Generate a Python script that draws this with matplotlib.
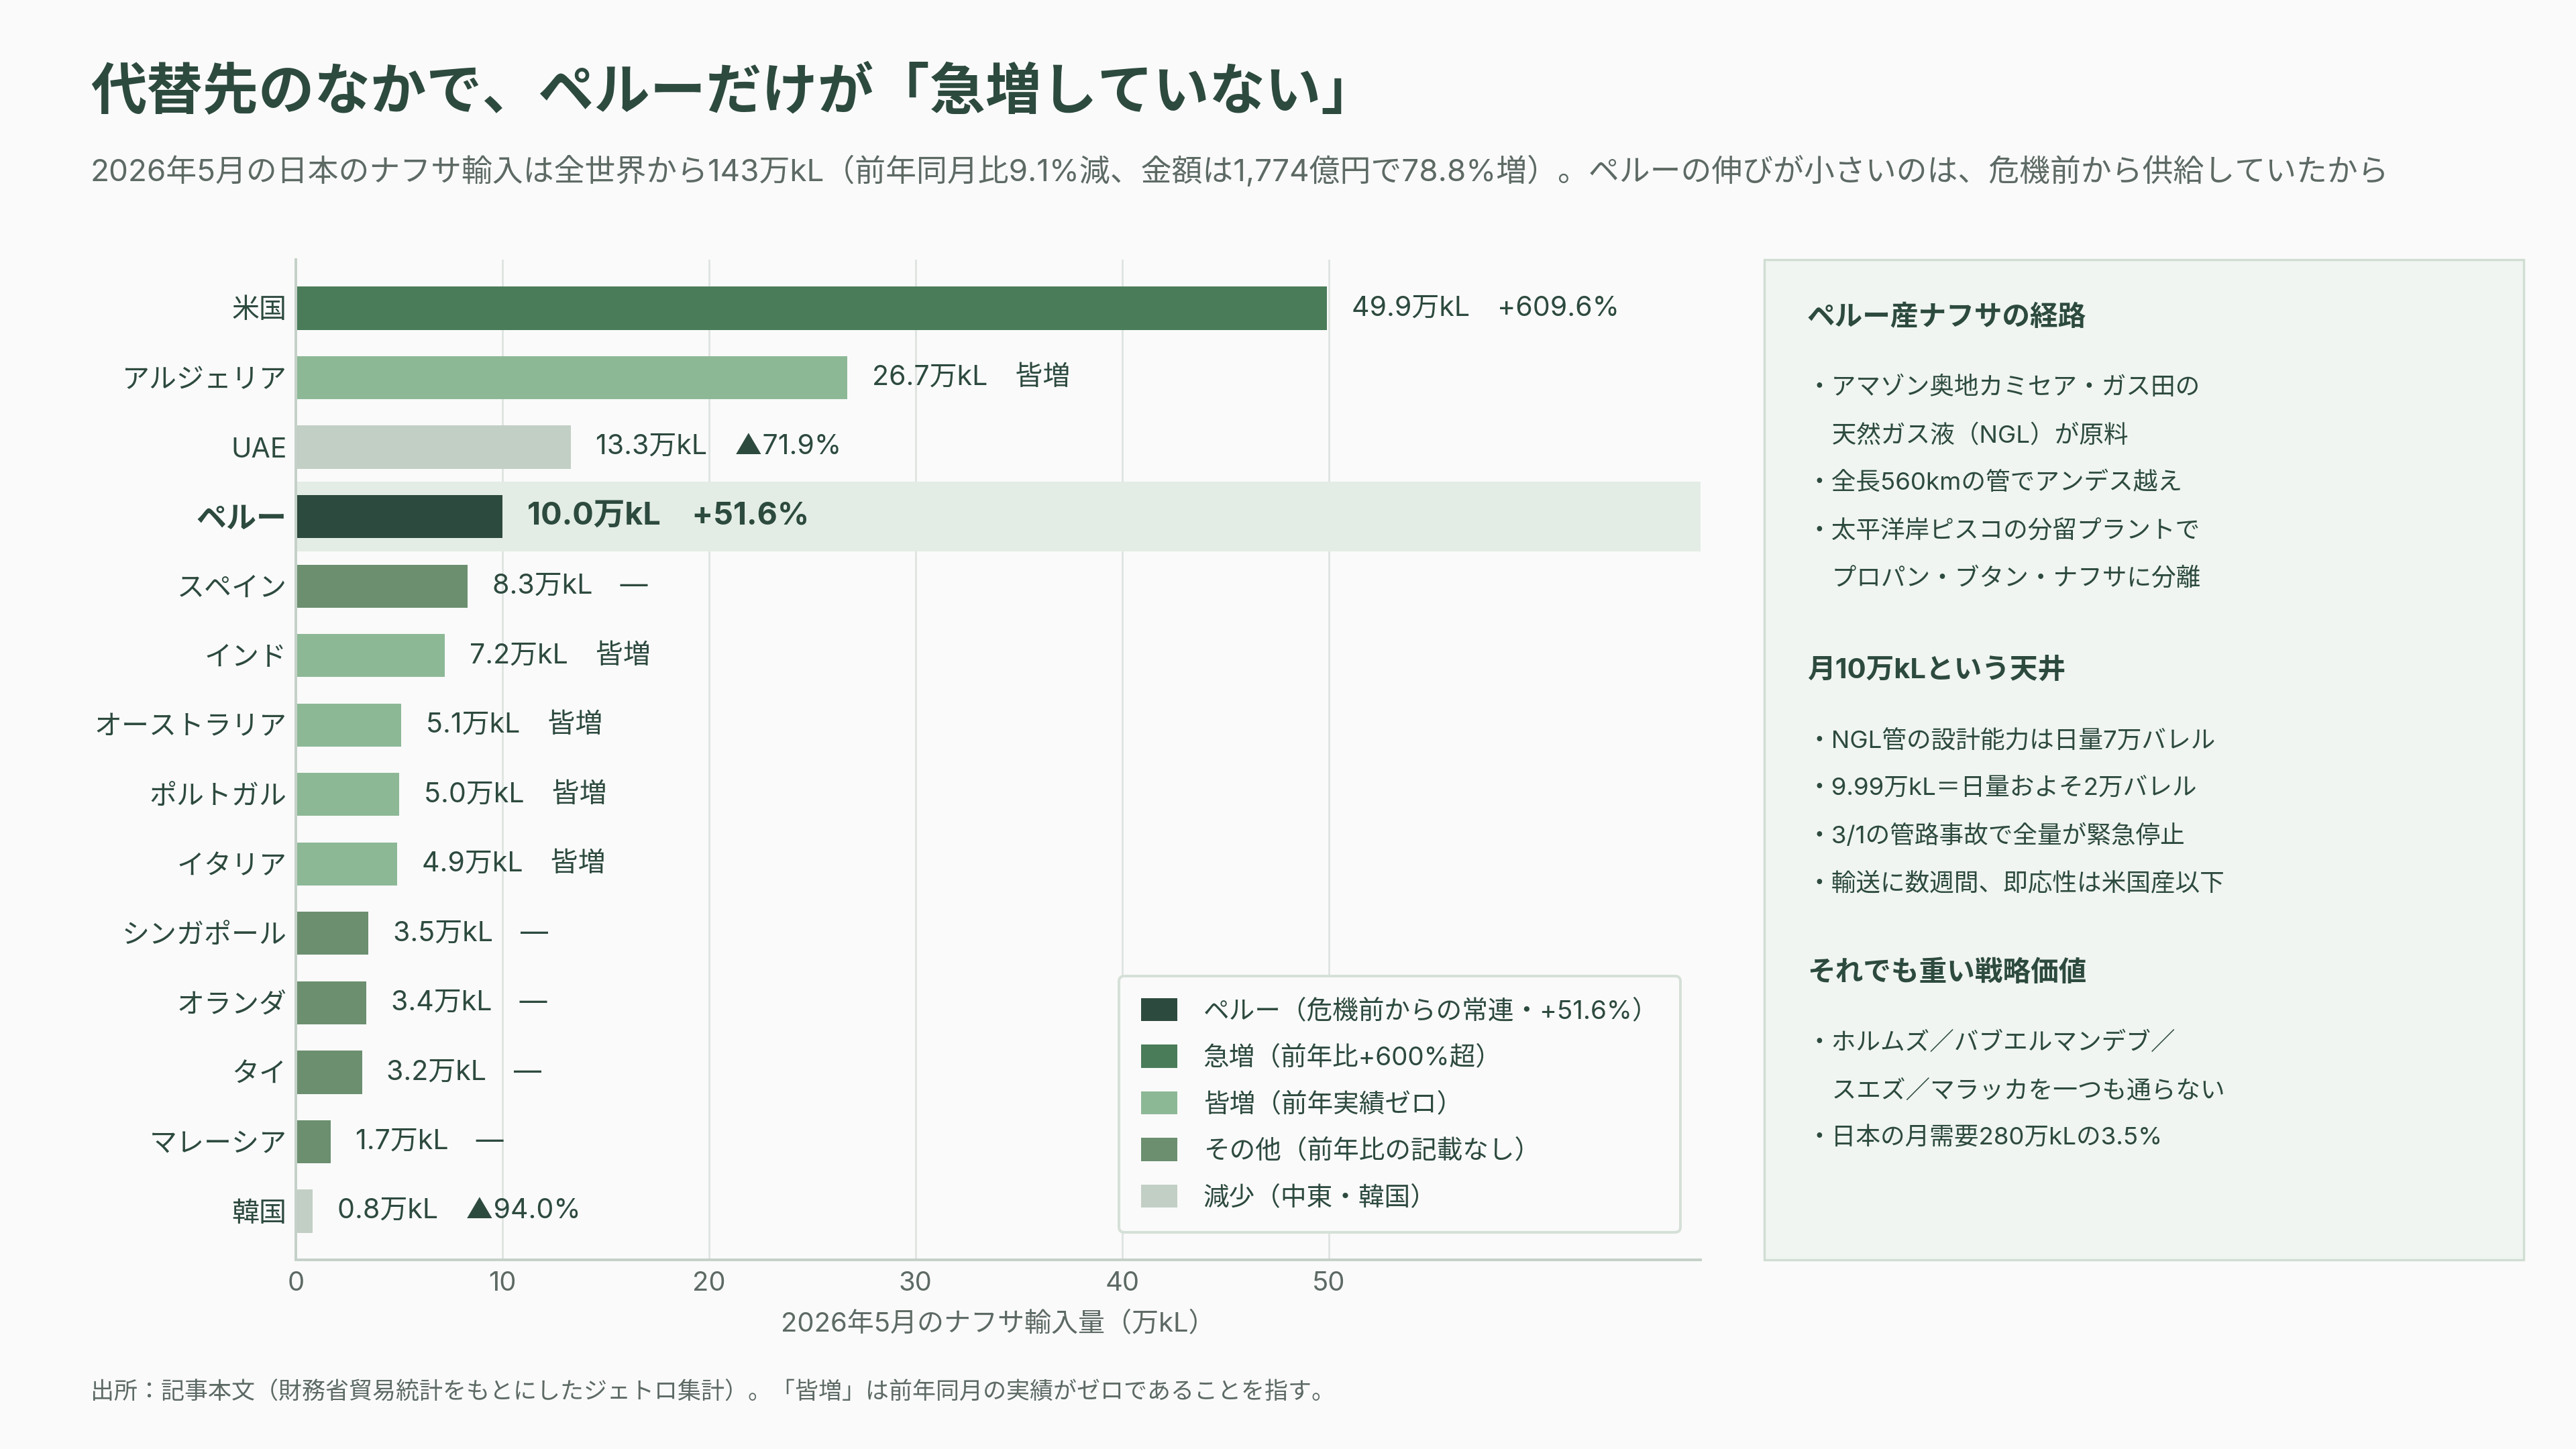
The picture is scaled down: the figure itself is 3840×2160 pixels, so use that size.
import matplotlib
matplotlib.use("Agg")
import matplotlib.pyplot as plt
from matplotlib.patches import Patch, Rectangle

plt.rcParams['font.family'] = ['Inter', 'Noto Sans CJK JP', 'DejaVu Sans']

# データ
countries = ["米国", "アルジェリア", "UAE", "ペルー", "スペイン", "インド", "オーストラリア",
             "ポルトガル", "イタリア", "シンガポール", "オランダ", "タイ", "マレーシア", "韓国"]
volumes = [49.9, 26.7, 13.3, 10.0, 8.3, 7.2, 5.1, 5.0, 4.9, 3.5, 3.4, 3.2, 1.7, 0.8]
changes = ["+609.6%", "皆増", "▲71.9%", "+51.6%", "—", "皆増", "皆増",
           "皆増", "皆増", "—", "—", "—", "—", "▲94.0%"]
groups = ["surge", "new", "down", "peru", "other", "new", "new",
          "new", "new", "other", "other", "other", "other", "down"]

group_order = ["peru", "surge", "new", "other", "down"]
group_labels = {
    "peru": "ペルー（危機前からの常連・+51.6%）",
    "surge": "急増（前年比+600%超）",
    "new": "皆増（前年実績ゼロ）",
    "other": "その他（前年比の記載なし）",
    "down": "減少（中東・韓国）",
}
group_colors = {
    "peru": "#2d4a3e",
    "surge": "#4a7c59",
    "new": "#8db896",
    "other": "#6b8f6f",
    "down": "#c2cfc5",
}

title = "代替先のなかで、ペルーだけが「急増していない」"
subtitle = ("2026年5月の日本のナフサ輸入は全世界から143万kL（前年同月比9.1%減、金額は1,774億円で78.8%増）。"
            "ペルーの伸びが小さいのは、危機前から供給していたから")
xlabel = "2026年5月のナフサ輸入量（万kL）"
footer = "出所：記事本文（財務省貿易統計をもとにしたジェトロ集計）。「皆増」は前年同月の実績がゼロであることを指す。"

panel_sections = [
    ("ペルー産ナフサの経路", ["・アマゾン奥地カミセア・ガス田の", "　天然ガス液（NGL）が原料",
                           "・全長560kmの管でアンデス越え", "・太平洋岸ピスコの分留プラントで",
                           "　プロパン・ブタン・ナフサに分離"]),
    ("月10万kLという天井", ["・NGL管の設計能力は日量7万バレル", "・9.99万kL＝日量およそ2万バレル",
                          "・3/1の管路事故で全量が緊急停止", "・輸送に数週間、即応性は米国産以下"]),
    ("それでも重い戦略価値", ["・ホルムズ／バブエルマンデブ／", "　スエズ／マラッカを一つも通らない",
                           "・日本の月需要280万kLの3.5%"]),
]

dark = "#2d4a3e"
gray = "#5d6a64"
bg = "#fafafa"
W, H = 3840, 2160


def fx(px):
    return px / W


def fy(py):
    return 1 - py / H


fig = plt.figure(figsize=(16, 9), dpi=240, facecolor=bg)

fig.text(fx(135), fy(140), title, fontsize=25, fontweight='bold', color=dark, va='center', ha='left')
fig.text(fx(135), fy(255), subtitle, fontsize=13.75, color=gray, va='center', ha='left')

ax = fig.add_axes([fx(441), fy(1878), fx(2535 - 441), (1878 - 387) / H])
ax.set_facecolor(bg)

y = list(range(len(countries)))
colors = [group_colors[g] for g in groups]
ax.axhspan(2.5, 3.5, color="#e3ede5", zorder=1, lw=0)
ax.barh(y, volumes, height=0.62, color=colors, zorder=2)

for i, (v, c, g) in enumerate(zip(volumes, changes, groups)):
    label = f"{v:.1f}万kL\u3000{c}"
    if g == "peru":
        ax.text(v + 1.2, i, label, va='center', ha='left', fontsize=14, fontweight='bold', color=dark, zorder=3)
    else:
        ax.text(v + 1.2, i, label, va='center', ha='left', fontsize=12.3, color=dark, zorder=3)

ax.set_xlim(0, 68)
ax.set_ylim(13.7, -0.7)
ax.set_yticks(y)
ax.set_yticklabels(countries)
for lab, g in zip(ax.get_yticklabels(), groups):
    lab.set_color(dark)
    if g == "peru":
        lab.set_fontweight('bold')
        lab.set_fontsize(13.5)
    else:
        lab.set_fontsize(12.3)
ax.set_xticks([0, 10, 20, 30, 40, 50])
ax.tick_params(axis='both', length=0)
ax.tick_params(axis='y', pad=4)
ax.tick_params(axis='x', pad=5, labelsize=12, labelcolor=gray)
ax.grid(axis='x', color="#dde3df", lw=0.8)
ax.set_axisbelow(True)
for s in ["top", "right"]:
    ax.spines[s].set_visible(False)
for s in ["left", "bottom"]:
    ax.spines[s].set_color("#c5d1c8")
    ax.spines[s].set_linewidth(1.2)
ax.set_xlabel(xlabel, fontsize=12, color=gray, labelpad=7)

handles = [Patch(facecolor=group_colors[g], label=group_labels[g]) for g in group_order]
leg = ax.legend(handles=handles, loc='lower right', bbox_to_anchor=(0.9857, 0.0275),
                borderaxespad=0, fontsize=11.6, frameon=True, labelspacing=0.8,
                handlelength=1.4, handleheight=1.0, handletextpad=1.0,
                borderpad=0.85, labelcolor=dark)
leg.get_frame().set_facecolor(bg)
leg.get_frame().set_edgecolor("#d5e0d8")
leg.get_frame().set_linewidth(1.2)
leg.get_frame().set_alpha(1)
leg.set_zorder(5)

# 右側パネル
panel = Rectangle((fx(2630), fy(1878)), fx(3762 - 2630), (1878 - 387) / H,
                  transform=fig.transFigure, facecolor="#f0f5f1", edgecolor="#d0ddd3", lw=1.0, zorder=0)
fig.patches.append(panel)

head_y = [473, 999, 1450]
for (head, lines), hy in zip(panel_sections, head_y):
    fig.text(fx(2694), fy(hy), head, fontsize=12.5, fontweight='bold', color=dark, va='center', ha='left')
    for k, line in enumerate(lines):
        ly = hy + 105 + k * 71
        fig.text(fx(2694), fy(ly), line, fontsize=11, color=dark, va='center', ha='left')

fig.text(fx(135), fy(2076), footer, fontsize=10.5, color=gray, va='center', ha='left')

fig.savefig("out.png", dpi=240, facecolor=bg)
